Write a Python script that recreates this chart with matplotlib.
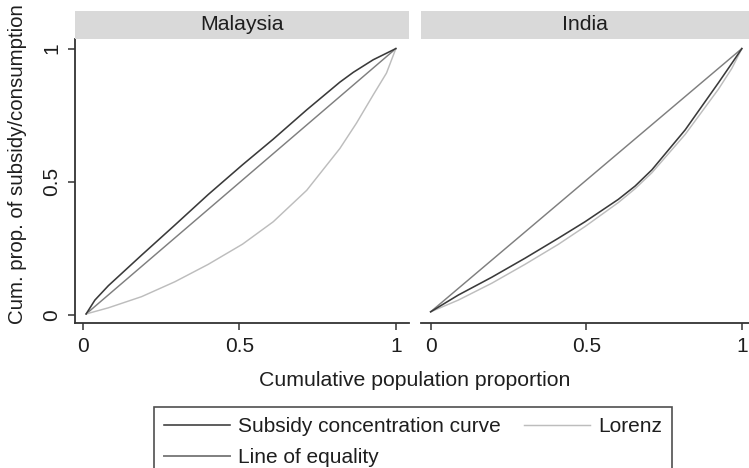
import matplotlib
matplotlib.use("Agg")
import matplotlib.pyplot as plt
from matplotlib.lines import Line2D
from matplotlib.patches import Rectangle

plt.rcParams['font.family'] = ['Liberation Sans', 'DejaVu Sans']

# ---- data ----
mys_x = [0.01, 0.038, 0.081, 0.1875, 0.294, 0.40, 0.51, 0.608, 0.715, 0.821,
         0.864, 0.9275, 1.0]
mys_conc = [0.004, 0.056, 0.11, 0.225, 0.338, 0.452, 0.564, 0.66, 0.77, 0.874,
            0.911, 0.958, 1.0]
mys_lorenz_x = [0.01, 0.081, 0.1875, 0.294, 0.40, 0.51, 0.608, 0.715, 0.821,
                0.874, 0.9275, 0.970, 1.0]
mys_lorenz = [0.004, 0.027, 0.069, 0.125, 0.19, 0.266, 0.35, 0.468, 0.625,
              0.72, 0.826, 0.908, 1.0]

ind_x = [0.0, 0.089, 0.196, 0.303, 0.41, 0.496, 0.603, 0.657, 0.711, 0.818,
         0.925, 0.968, 1.0]
ind_conc = [0.012, 0.075, 0.1415, 0.213, 0.288, 0.35, 0.434, 0.484, 0.545, 0.695,
            0.872, 0.945, 1.0]
ind_lorenz = [0.012, 0.056, 0.119, 0.19, 0.265, 0.332, 0.422, 0.474, 0.534,
              0.678, 0.848, 0.926, 1.0]

mys_eq = [0.01, 1.0]
mys_eq_y = [0.004, 1.0]
ind_eq = [0.0, 1.0]
ind_eq_y = [0.012, 1.0]
panels = ["Malaysia", "India"]
x_ticks = [0, 0.5, 1]
x_ticklabels = ["0", "0.5", "1"]
y_ticks = [0, 0.5, 1]
y_ticklabels = ["0", "0.5", "1"]
legend_labels = ["Subsidy concentration curve", "Lorenz", "Line of equality"]

c_conc = "#3a3a3a"
c_lor = "#bdbdbd"
c_eq = "#7f7f7f"
c_axis = "#333333"
c_text = "#1e1e1e"
FS = 15

W, H = 749, 468
fig = plt.figure(figsize=(W / 100, H / 100), dpi=100)

def px_axes(l, t, r, b):
    return fig.add_axes([l / W, 1 - b / H, (r - l) / W, (b - t) / H])

ax1 = px_axes(75, 39, 409, 323)
ax2 = px_axes(421, 39, 749, 323)

data = [
    (ax1, mys_x, mys_conc, mys_lorenz_x, mys_lorenz, mys_eq, mys_eq_y),
    (ax2, ind_x, ind_conc, ind_x, ind_lorenz, ind_eq, ind_eq_y),
]
for ax, xs, conc, lx, lor, ex, ey in data:
    ax.plot(ex, ey, color=c_eq, lw=1.05, zorder=2)
    ax.plot(lx, lor, color=c_lor, lw=1.05, zorder=3)
    ax.plot(xs, conc, color=c_conc, lw=1.15, zorder=4)
    ax.set_ylim(-0.03, 1.036)
    for s in ["top", "right"]:
        ax.spines[s].set_visible(False)
    ax.spines["bottom"].set_color(c_axis)
    ax.spines["bottom"].set_linewidth(1.3)
    ax.set_xticks(x_ticks)
    ax.set_xticklabels(x_ticklabels, fontsize=FS)
    ax.tick_params(axis="x", length=5, width=1.1, color=c_axis, pad=5, labelcolor=c_text)

ax1.set_xlim(-0.0256, 1.042)
ax2.set_xlim(-0.031, 1.023)

ax1.spines["left"].set_color(c_axis)
ax1.spines["left"].set_linewidth(1.3)
ax1.set_yticks(y_ticks)
ax1.set_yticklabels(y_ticklabels, fontsize=FS, rotation=90, va="center")
ax1.tick_params(axis="y", length=5, width=1.1, color=c_axis, pad=5, labelcolor=c_text)

ax2.spines["left"].set_visible(False)
ax2.set_yticks([])

# strips
for (l, r), name in zip([(75, 409), (421, 749)], panels):
    fig.patches.append(Rectangle((l / W, 1 - 39 / H), (r - l) / W, 28 / H,
                                 transform=fig.transFigure, facecolor="#d9d9d9",
                                 edgecolor="none"))
    fig.text((l + r) / 2 / W, 1 - 25 / H, name, ha="center", va="center",
             fontsize=15.3, color=c_text)

fig.text(415 / W, 1 - 381 / H, "Cumulative population proportion",
         ha="center", va="center", fontsize=15.3, color=c_text)
fig.text(18 / W, 1 - 164 / H, "Cum. prop. of subsidy/consumption",
         ha="center", va="center", rotation=90, fontsize=14.7, color=c_text)

# legend
handles = [Line2D([], [], color=c_conc, lw=1.15),
           Line2D([], [], color=c_eq, lw=1.4),
           Line2D([], [], color=c_lor, lw=1.05)]
labels = [legend_labels[0], legend_labels[2], legend_labels[1]]
leg = fig.legend(handles, labels, ncol=2, loc="upper left",
                 bbox_to_anchor=(154 / W, 1 - 407 / H), fontsize=FS,
                 frameon=True, fancybox=False, handlelength=3.15,
                 handletextpad=0.4, columnspacing=1.1, labelspacing=0.55,
                 borderpad=0.5, borderaxespad=0)
leg.get_frame().set_edgecolor("#222222")
leg.get_frame().set_linewidth(1.2)
for t in leg.get_texts():
    t.set_color(c_text)

fig.savefig("out.png", dpi=100)
